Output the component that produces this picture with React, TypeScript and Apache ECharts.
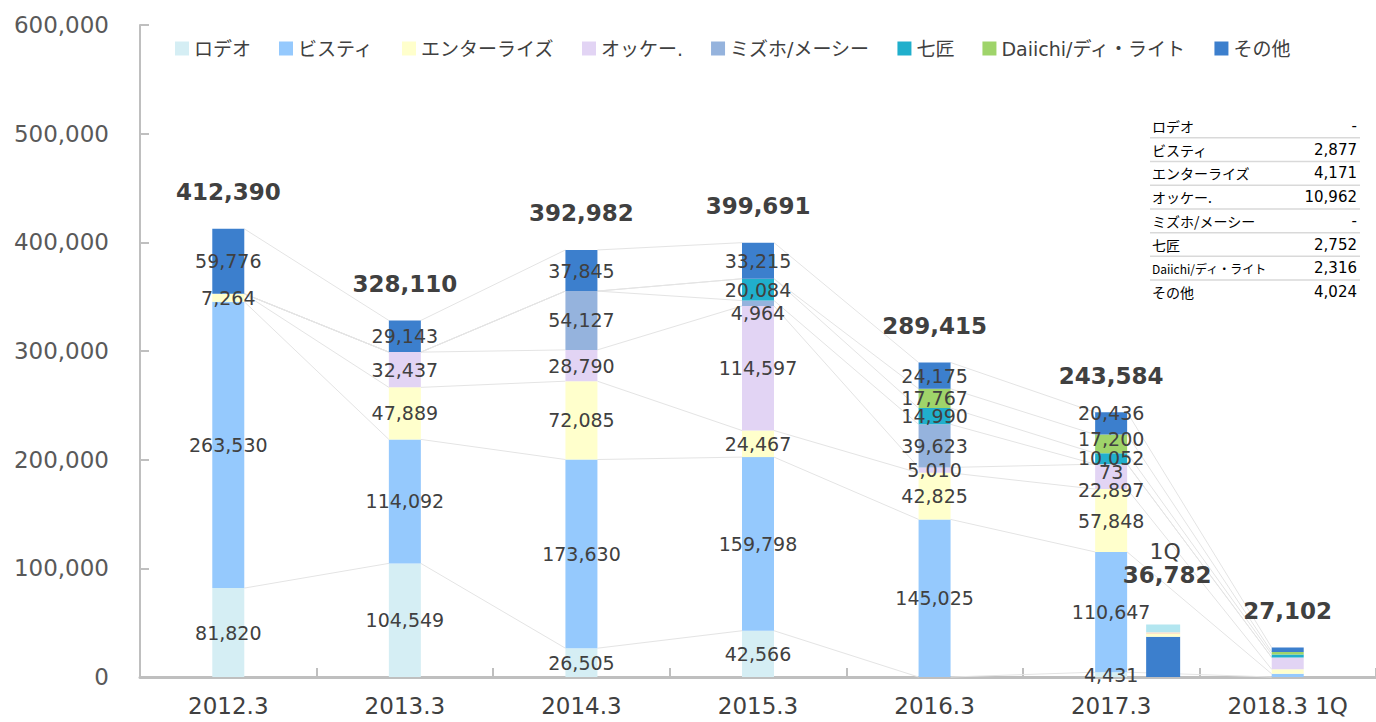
import React, { useEffect, useRef } from "react";
import * as echarts from "echarts";

const categories = ["2012.3", "2013.3", "2014.3", "2015.3", "2016.3", "2017.3", "2018.3 1Q"];
const seriesNames = ["ロデオ", "ビスティ", "エンターライズ", "オッケー.", "ミズホ/メーシー", "七匠", "Daiichi/ディ・ライト", "その他"];
const seriesColors = ["#d5eef4", "#95c9fd", "#ffffcc", "#e2d4f4", "#95b3dd", "#20afcc", "#9fd46a", "#3c7fcd"];

const rodeo = [81820, 104549, 26505, 42566, null, 4431, null];
const bisty = [263530, 114092, 173630, 159798, 145025, 110647, 2877];
const enterrise = [7264, 47889, 72085, 24467, 42825, 57848, 4171];
const okke = [null, 32437, 28790, 114597, 5010, 22897, 10962];
const mizuho = [null, null, 54127, 4964, 39623, 73, null];
const nanasho = [null, null, null, 20084, 14990, 10052, 2752];
const daiichi = [null, null, null, null, 17767, 17200, 2316];
const other = [59776, 29143, 37845, 33215, 24175, 20436, 4024];

const seriesValues: (number | null)[][] = [rodeo, bisty, enterrise, okke, mizuho, nanasho, daiichi, other];

// 1Q inset bar beside 2017.3
const q1Category = 5;
const q1Segments = [37000, 2600, 1500, 7100];
const q1Colors = ["#3c7fcd", "#ffffcc", "#fde3cc", "#b3e6f0"];
const q1Title = "1Q";
const q1Total = 36782;

const tableCategory = 6;

// label nudges (style only): "seriesIndex-dataIndex" -> vertical px offset
const labelNudges: Record<string, number> = {
  "4-3": 10,
  "3-5": 13,
  "4-5": 8,
  "5-5": -1,
  "6-5": -5,
  "7-5": -10,
};

const FONT = "'DejaVu Sans', 'Noto Sans CJK JP', sans-serif";
const JFONT = "'Noto Sans CJK JP', 'DejaVu Sans', sans-serif";
const fmt = (v: number) => v.toLocaleString("en-US");

export default function App() {
  const ref = useRef<HTMLDivElement>(null);

  useEffect(() => {
    if (!ref.current) return;
    const chart = echarts.init(ref.current, null, { renderer: "svg" });

    const cum: number[][] = categories.map((_, i) => {
      let acc = 0;
      return seriesValues.map((arr) => {
        acc += arr[i] ?? 0;
        return acc;
      });
    });
    const totals = cum.map((c) => c[c.length - 1]);

    const lineData: number[][] = [];
    for (let i = 0; i < categories.length - 1; i++) {
      for (let k = 0; k < seriesValues.length; k++) {
        lineData.push([i, cum[i][k], cum[i + 1][k]]);
      }
    }

    const barW = 32;

    const barSeries = seriesValues.map((arr, k) => ({
      name: seriesNames[k],
      type: "bar",
      stack: "s",
      barWidth: barW,
      data: arr.map((v, i) => {
        const dy = labelNudges[`${k}-${i}`];
        return dy ? { value: v, label: { offset: [0, dy] } } : v;
      }),
      z: 3,
      itemStyle: { color: seriesColors[k] },
      label: {
        show: true,
        position: "inside",
        fontSize: 19,
        fontFamily: FONT,
        color: "#404040",
        formatter: (p: any) =>
          p.dataIndex === tableCategory || p.value == null ? "" : fmt(p.value),
      },
    }));

    const tableRows: any[] = [];
    const rowY0 = 126;
    const rowH = 23.7;
    seriesNames.forEach((name, k) => {
      const y = rowY0 + k * rowH;
      const v = seriesValues[k][tableCategory];
      tableRows.push({
        type: "text",
        x: 1152,
        y,
        style: {
          text: name,
          fontSize: name.length > 10 ? 12 : 14,
          fontFamily: JFONT,
          fill: "#000",
          align: "left",
          textAlign: "left",
          verticalAlign: "middle",
          textVerticalAlign: "middle",
        },
      });
      tableRows.push({
        type: "text",
        x: 1357,
        y,
        style: {
          text: v == null ? "-" : fmt(v),
          fontSize: 15,
          fontFamily: FONT,
          fill: "#000",
          align: "right",
          textAlign: "right",
          verticalAlign: "middle",
          textVerticalAlign: "middle",
        },
      });
      if (k < seriesNames.length - 1) {
        tableRows.push({
          type: "line",
          shape: { x1: 1150, y1: y + rowH / 2, x2: 1360, y2: y + rowH / 2 },
          style: { stroke: "#d9d9d9", lineWidth: 1.5 },
        });
      }
    });

    const option: any = {
      animation: false,
      backgroundColor: "#ffffff",
      textStyle: { fontFamily: FONT },
      grid: { left: 140, right: 0, top: 25, bottom: 45, containLabel: false },
      legend: {
        data: seriesNames,
        left: 170,
        top: 34,
        icon: "rect",
        itemWidth: 14,
        itemHeight: 14,
        itemGap: 28,
        textStyle: { fontSize: 19, color: "#404040", fontFamily: FONT },
      },
      xAxis: {
        type: "category",
        data: categories,
        axisLine: { lineStyle: { color: "#bfbfbf", width: 3 } },
        axisTick: { show: true, inside: true, length: 9, lineStyle: { color: "#bfbfbf", width: 2 } },
        axisLabel: { fontSize: 23, color: "#404040", margin: 17, fontFamily: FONT },
      },
      yAxis: {
        type: "value",
        min: 0,
        max: 600000,
        interval: 100000,
        splitLine: { show: false },
        axisLine: { show: true, lineStyle: { color: "#bfbfbf", width: 2 } },
        axisTick: { show: true, inside: true, length: 9, lineStyle: { color: "#bfbfbf", width: 2 } },
        axisLabel: {
          fontSize: 23,
          color: "#595959",
          margin: 31,
          fontFamily: FONT,
          formatter: (v: number) => fmt(v),
        },
      },
      graphic: tableRows,
      series: [
        {
          type: "custom",
          name: "series-lines",
          z: 1,
          silent: true,
          encode: { x: 0, y: [1, 2] },
          data: lineData,
          renderItem: (params: any, api: any) => {
            const i = api.value(0);
            const p1 = api.coord([i, api.value(1)]);
            const p2 = api.coord([i + 1, api.value(2)]);
            return {
              type: "line",
              shape: { x1: p1[0] + barW / 2, y1: p1[1], x2: p2[0] - barW / 2, y2: p2[1] },
              style: { stroke: "#e4e4e4", lineWidth: 1 },
            };
          },
        },
        ...barSeries,
        {
          name: "total",
          type: "bar",
          stack: "s",
          barWidth: barW,
          data: categories.map(() => 0),
          itemStyle: { color: "transparent" },
          silent: true,
          z: 4,
          label: {
            show: true,
            position: "top",
            distance: 25,
            fontSize: 23,
            fontWeight: "bold",
            fontFamily: FONT,
            color: "#404040",
            formatter: (p: any) => fmt(totals[p.dataIndex]),
          },
        },
        {
          type: "custom",
          name: "q1-inset",
          z: 5,
          silent: true,
          encode: { x: 0, y: [1, 2, 3, 4] },
          data: [[q1Category, ...q1Segments]],
          renderItem: (params: any, api: any) => {
            const i = api.value(0);
            const off = 52;
            const w = 34;
            let acc = 0;
            const children: any[] = [];
            for (let s = 0; s < q1Segments.length; s++) {
              const v = api.value(1 + s);
              const top = api.coord([i, acc + v]);
              const bot = api.coord([i, acc]);
              children.push({
                type: "rect",
                shape: { x: top[0] + off - w / 2, y: top[1], width: w, height: bot[1] - top[1] },
                style: { fill: q1Colors[s] },
              });
              acc += v;
            }
            const t = api.coord([i, acc]);
            children.push({
              type: "text",
              x: t[0] + off + 2,
              y: t[1] - 73,
              style: {
                text: q1Title,
                fontSize: 22,
                fontFamily: FONT,
                fill: "#404040",
                align: "center",
                textAlign: "center",
                verticalAlign: "middle",
                textVerticalAlign: "middle",
              },
            });
            children.push({
              type: "text",
              x: t[0] + off + 4,
              y: t[1] - 50,
              style: {
                text: fmt(q1Total),
                fontSize: 23,
                fontWeight: "bold",
                fontFamily: FONT,
                fill: "#404040",
                align: "center",
                textAlign: "center",
                verticalAlign: "middle",
                textVerticalAlign: "middle",
              },
            });
            return { type: "group", children };
          },
        },
      ],
    };

    chart.setOption(option);
    return () => chart.dispose();
  }, []);

  return (
    <div
      ref={ref}
      style={{ position: "fixed", left: 0, top: 0, width: 1376, height: 722, background: "#fff" }}
    />
  );
}
